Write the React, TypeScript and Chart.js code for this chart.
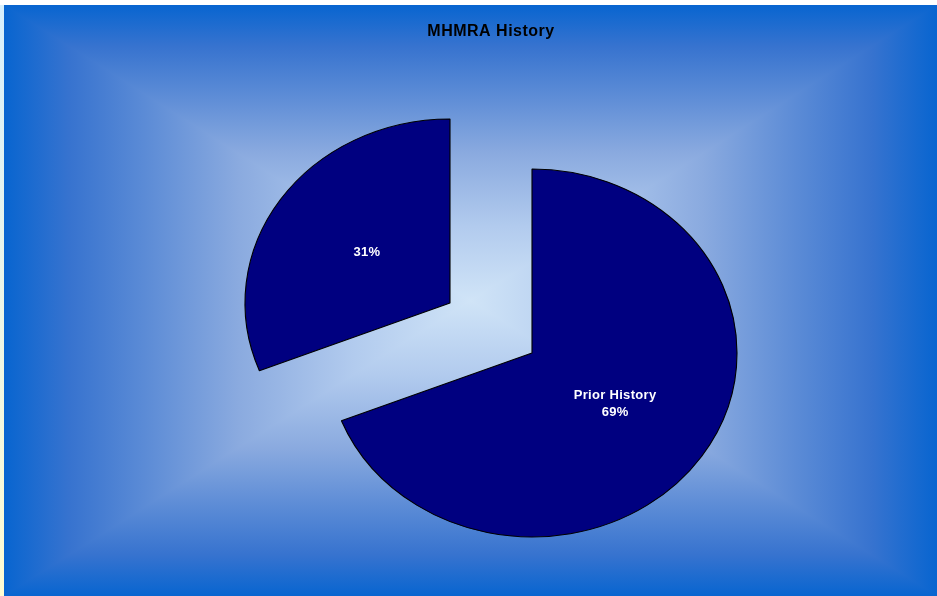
import React, { useEffect, useRef } from "react";
import { Chart, registerables } from "chart.js";

Chart.register(...registerables);

// ---- data ----
const categories: string[] = ["Prior History", ""];
const values: number[] = [69, 31];
const sliceColors: string[] = ["#000080", "#000080"];
const chartTitle = "MHMRA History";

// ---- style constants ----
const W = 937;
const H = 596;
const RADIUS = 184;
const STRETCH_X = 205 / 184;
const EXPLODE = 44.5;
const LABEL_POS = 0.49;

const bgPlugin = {
  id: "rectGradientBg",
  beforeDraw(chart: any) {
    const ctx: CanvasRenderingContext2D = chart.ctx;
    ctx.save();
    ctx.fillStyle = "#ffffff";
    ctx.fillRect(0, 0, W, H);
    // left thin strip
    const ls = ctx.createLinearGradient(0, 0, 0, H);
    ls.addColorStop(0, "#d6effd");
    ls.addColorStop(1, "#fffcd2");
    ctx.fillStyle = ls;
    ctx.fillRect(0, 5, 4, H - 5);

    const x0 = 4, y0 = 5, x1 = W, y1 = H;
    const cx = (x0 + x1) / 2, cy = (y0 + y1) / 2;
    const stops: [number, string][] = [
      [0, "#d0e4f7"],
      [0.25, "#b2cbee"],
      [0.5, "#8aaadf"],
      [0.7, "#5b8bd6"],
      [0.86, "#3773cf"],
      [1, "#0865d0"],
    ];
    // horizontal symmetric gradient over the whole rect
    const gh = ctx.createLinearGradient(x0, 0, x1, 0);
    stops.forEach(([t, c]) => {
      gh.addColorStop((1 - t) / 2, c);
      gh.addColorStop(1 - (1 - t) / 2, c);
    });
    ctx.fillStyle = gh;
    ctx.fillRect(x0, y0, x1 - x0, y1 - y0);
    // top & bottom triangles with vertical gradients
    const tri = (pts: number[][], g: CanvasGradient) => {
      stops.forEach(([t, c]) => g.addColorStop(1 - t, c));
      ctx.fillStyle = g;
      ctx.beginPath();
      ctx.moveTo(pts[0][0], pts[0][1]);
      ctx.lineTo(pts[1][0], pts[1][1]);
      ctx.lineTo(pts[2][0], pts[2][1]);
      ctx.closePath();
      ctx.fill();
    };
    tri([[x0, y0], [x1, y0], [cx, cy]], ctx.createLinearGradient(0, y0, 0, cy));
    tri([[x0, y1], [x1, y1], [cx, cy]], ctx.createLinearGradient(0, y1, 0, cy));
    ctx.restore();
  },
};

const explodePlugin = {
  id: "explodedEllipticPie",
  beforeDatasetDraw(chart: any, args: any) {
    const ctx: CanvasRenderingContext2D = chart.ctx;
    const meta = args.meta;
    meta.data.forEach((arc: any) => {
      const { x, y, startAngle, endAngle } = arc.getProps(["x", "y", "startAngle", "endAngle"]);
      const a = (startAngle + endAngle) / 2;
      ctx.save();
      ctx.translate(x, y);
      ctx.scale(STRETCH_X, 1);
      ctx.translate(Math.cos(a) * EXPLODE, Math.sin(a) * EXPLODE);
      ctx.translate(-x, -y);
      arc.draw(ctx);
      ctx.restore();
    });
    return false;
  },
  afterDraw(chart: any) {
    const ctx: CanvasRenderingContext2D = chart.ctx;
    const meta = chart.getDatasetMeta(0);
    const data: number[] = chart.data.datasets[0].data;
    const total = data.reduce((s, v) => s + v, 0);
    ctx.save();
    ctx.fillStyle = "#ffffff";
    ctx.textAlign = "center";
    ctx.textBaseline = "middle";
    ctx.font = 'bold 13px "Liberation Sans", Arial, sans-serif';
    (ctx as any).letterSpacing = "0.3px";
    meta.data.forEach((arc: any, i: number) => {
      const { x, y, startAngle, endAngle, outerRadius } = arc.getProps(["x", "y", "startAngle", "endAngle", "outerRadius"]);
      const a = (startAngle + endAngle) / 2;
      const d = EXPLODE + outerRadius * LABEL_POS;
      const lx = x + Math.cos(a) * d * STRETCH_X;
      const ly = y + Math.sin(a) * d;
      const pct = Math.round((data[i] / total) * 100) + "%";
      const lines = categories[i] ? [categories[i], pct] : [pct];
      const lh = 17;
      lines.forEach((t, j) => {
        ctx.fillText(t, lx, ly + (j - (lines.length - 1) / 2) * lh);
      });
    });
    // title
    ctx.fillStyle = "#000000";
    ctx.font = 'bold 16px "Liberation Sans", Arial, sans-serif';
    (ctx as any).letterSpacing = "0.5px";
    ctx.textBaseline = "alphabetic";
    ctx.fillText(chartTitle, (chart.chartArea.left + chart.chartArea.right) / 2, 36);
    ctx.restore();
  },
};

export default function App() {
  const ref = useRef<HTMLCanvasElement | null>(null);
  useEffect(() => {
    if (!ref.current) return;
    const chart = new Chart(ref.current, {
      type: "pie",
      data: {
        labels: categories,
        datasets: [
          {
            data: values,
            backgroundColor: sliceColors,
            borderColor: "#000000",
            borderWidth: 1,
          },
        ],
      },
      options: {
        responsive: false,
        animation: false,
        radius: RADIUS,
        layout: { padding: { left: 45, right: 0, top: 60, bottom: 0 } },
        plugins: {
          legend: { display: false },
          tooltip: { enabled: false },
          title: { display: false },
        },
        events: [],
      } as any,
      plugins: [bgPlugin, explodePlugin],
    });
    return () => chart.destroy();
  }, []);
  return (
    <div style={{ position: "fixed", left: 0, top: 0, width: W, height: H }}>
      <canvas ref={ref} width={W} height={H} style={{ display: "block", width: W, height: H }} />
    </div>
  );
}
